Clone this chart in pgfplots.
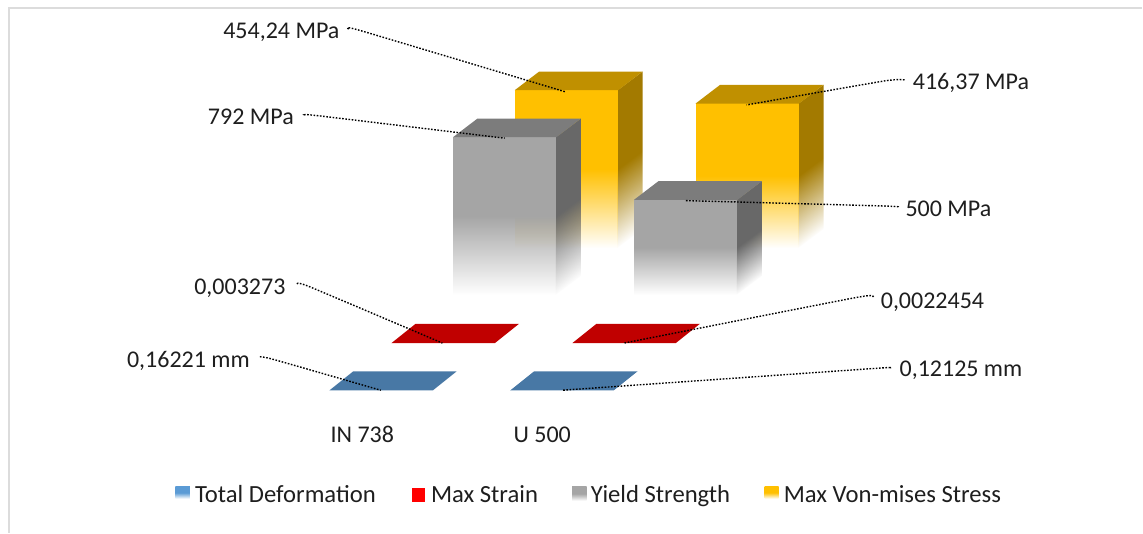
\documentclass[border=0pt]{standalone}
\usepackage{fontspec}
\setmainfont{Carlito}
\usepackage{pgfplots}
\pgfplotsset{compat=1.18}
\usetikzlibrary{fadings}
\definecolor{goldfront}{HTML}{FFC000}
\definecolor{goldtop}{HTML}{C09000}
\definecolor{goldside}{HTML}{A37A00}
\definecolor{greyfront}{HTML}{A5A5A5}
\definecolor{greytop}{HTML}{7C7C7C}
\definecolor{greyside}{HTML}{686868}
\definecolor{strainred}{HTML}{C00000}
\definecolor{deformblue}{HTML}{4878A5}
\definecolor{keyblue}{HTML}{5B9BD5}
\definecolor{framegrey}{HTML}{DCDCDC}
\definecolor{labelink}{HTML}{1E1E1E}
\tikzset{lab/.style={font=\fontsize{18}{21}\selectfont, text=labelink, inner sep=0pt},
  keylab/.style={font=\fontsize{18.5}{21}\selectfont, text=labelink, inner sep=0pt, anchor=base west}}
% solid for the upper half of a column, then dissolving towards the floor
\tikzfading[name=columnfade, top color=transparent!0, bottom color=transparent!100, middle color=transparent!0]
% #1 left edge, #2 zero level, #3 value, #4 drawing units per value unit,
% #5 level where the column has dissolved, #6 front, #7 top, #8 side colour
\newcommand{\drawcolumn}[8]{%
  \pgfmathsetmacro\ctop{#2-#3*#4}%
  \pgfmathsetmacro\cright{#1+103.5}%
  \pgfmathsetmacro\csidel{#1+103}%
  \pgfmathsetmacro\cbackl{#1+24.5}%
  \pgfmathsetmacro\cbackr{#1+128}%
  \pgfmathsetmacro\cback{\ctop-18.7}%
  \pgfmathsetmacro\cfadeb{#5-18.7}%
  \pgfmathsetmacro\cshear{18.7/(#5-\ctop+18.7)}%
  \pgfmathsetmacro\cshrink{(#5-\ctop)/(#5-\ctop+18.7)}%
  \edef\doplots{%
    \noexpand\addplot[draw=none, fill=#8, path fading=columnfade,
      fading transform={cm={1,\cshear,0,\cshrink,(0,0)}}]
      coordinates {(\csidel,\ctop) (\cbackr,\cback) (\cbackr,\cfadeb) (\csidel,#5)} --cycle;
    \noexpand\addplot[draw=none, fill=#6, path fading=columnfade]
      coordinates {(#1,\ctop) (\cright,\ctop) (\cright,#5) (#1,#5)} --cycle;
    \noexpand\addplot[draw=none, fill=#7]
      coordinates {(#1,\ctop) (\cbackl,\cback) (\cbackr,\cback) (\cright,\ctop)} --cycle;
  }\doplots
}
% a very small value leaves only the top face of the column visible
\newcommand{\flatcolumn}[5]{%
  \pgfmathsetmacro\ctop{#2-#3*#4}%
  \pgfmathsetmacro\cright{#1+103.5}%
  \pgfmathsetmacro\cbackl{#1+24}%
  \pgfmathsetmacro\cbackr{#1+127.5}%
  \pgfmathsetmacro\cback{\ctop-19.2}%
  \addplot[draw=none, fill=#5]
    coordinates {(#1,\ctop) (\cbackl,\cback) (\cbackr,\cback) (\cright,\ctop)} --cycle;
}
\newcommand{\legendkey}[5]{%
  \addplot[draw=none, top color=#5, bottom color=white, middle color=#5, forget plot]
    coordinates {(#1,#2) (#3,#2) (#3,#4) (#1,#4)} --cycle;
}
\begin{document}
\begin{tikzpicture}
\begin{axis}[
  scale only axis, width=857.25pt, height=399.75pt,
  xmin=0, xmax=1143, ymin=0, ymax=533, y dir=reverse,
  hide axis, clip=false,
  every axis plot/.append style={forget plot},
  leader/.style={black, line width=1.05pt, dash pattern=on 1.2pt off 1.2pt, smooth, tension=0.35},
]
% page extent
\path (axis cs:0,0) rectangle (axis cs:1143,533);
% chart frame
\addplot[framegrey, line width=1pt] coordinates {(9,533) (9,8) (1143,8)};

% Max Von-mises Stress
\drawcolumn{515}{250}{454.24}{0.3516}{248}{goldfront}{goldtop}{goldside}
\drawcolumn{696}{250}{416.37}{0.3516}{248}{goldfront}{goldtop}{goldside}
% Yield Strength
\drawcolumn{453.3}{307.4}{792}{0.2148}{295}{greyfront}{greytop}{greyside}
\drawcolumn{634.3}{307.4}{500}{0.2148}{295}{greyfront}{greytop}{greyside}
% Max Strain
\flatcolumn{391.7}{343.3}{0.003273}{1}{strainred}
\flatcolumn{572.7}{343.3}{0.0022454}{1}{strainred}
% Total Deformation
\flatcolumn{329.5}{390.7}{0.16221}{0}{deformblue}
\flatcolumn{510.5}{390.7}{0.12125}{0}{deformblue}

% leader lines
\addplot[leader] coordinates {(349,29) (362,31) (566,92)};
\addplot[leader] coordinates {(305,115) (320,116) (505,138.3)};
\addplot[leader] coordinates {(905,80) (885,81) (747,105)};
\addplot[leader] coordinates {(899,207) (880,206) (685,200.7)};
\addplot[leader] coordinates {(297,284) (310,287) (442.7,343.3)};
\addplot[leader] coordinates {(873,297) (855,298) (624.3,343.3)};
\addplot[leader] coordinates {(260,357) (275,360) (381,390.5)};
\addplot[leader] coordinates {(890,368) (870,369) (562,390.5)};

% value labels
\node[lab] at (axis cs:281.5,32) {454,24 MPa};
\node[lab] at (axis cs:251,117) {792 MPa};
\node[lab] at (axis cs:971.5,83) {416,37 MPa};
\node[lab] at (axis cs:949,209) {500 MPa};
\node[lab] at (axis cs:240,288) {0,003273};
\node[lab] at (axis cs:933,302) {0,0022454};
\node[lab] at (axis cs:188.5,361) {0,16221 mm};
\node[lab] at (axis cs:961.5,370) {0,12125 mm};

% categories
\node[lab] at (axis cs:362.5,435) {IN 738};
\node[lab] at (axis cs:542.5,435) {U 500};

% legend
\legendkey{175.5}{487}{190}{499}{keyblue}
\addplot[draw=none, fill=red] coordinates {(412,488) (425,488) (425,502) (412,502)} --cycle;
\legendkey{572.5}{487}{587}{501}{greyfront}
\legendkey{765}{487}{779}{499}{goldfront}
\node[keylab] at (axis cs:195,503) {Total Deformation};
\node[keylab] at (axis cs:431,503) {Max Strain};
\node[keylab] at (axis cs:591,503) {Yield Strength};
\node[keylab] at (axis cs:784,503) {Max Von-mises Stress};
\end{axis}
\end{tikzpicture}
\end{document}
